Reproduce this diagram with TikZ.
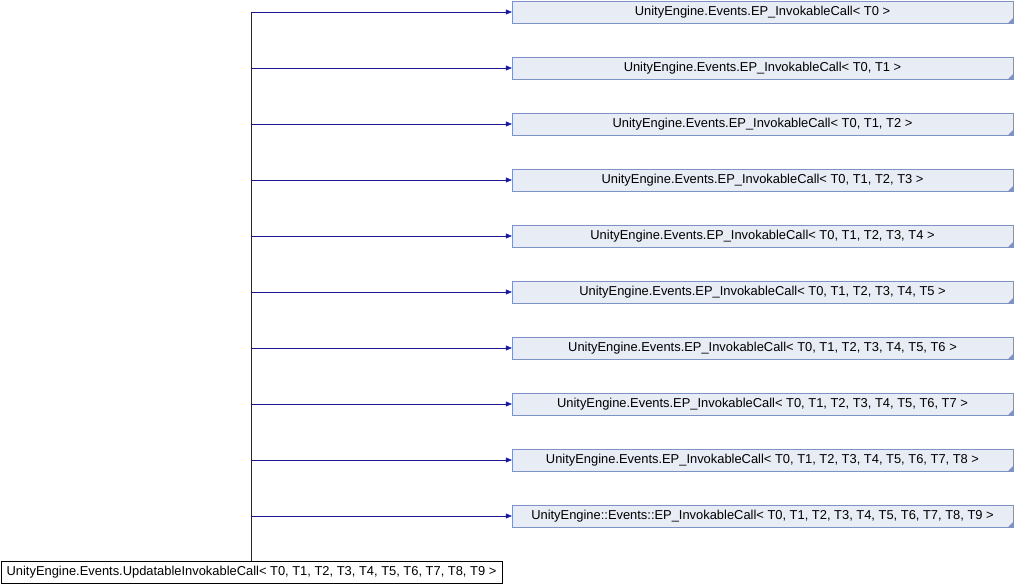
\documentclass[tikz,border=0pt]{standalone}
\usepackage{fontspec}
\setmainfont{Liberation Sans}
\usetikzlibrary{arrows.meta, positioning}
\definecolor{edgeblue}{RGB}{25,25,150}
\definecolor{boxfill}{RGB}{232,236,245}
\definecolor{boxline}{RGB}{124,147,198}

\begin{document}
\begin{tikzpicture}[
  x=1pt, y=-1pt,
  font=\fontsize{12.9}{14}\selectfont,
  cls/.style={draw=boxline, fill=boxfill, minimum width=501pt, minimum height=22pt, inner sep=0pt,
    path picture={\fill[boxline] (path picture bounding box.south east) -- ++(-5pt,0) -- ++(5pt,5pt) -- cycle;}},
  base/.style={draw=black, fill=white, minimum width=501pt, minimum height=22pt, inner sep=0pt},
  arr/.style={draw=edgeblue, -{Triangle[length=6pt, width=5pt]}}
]
\useasboundingbox (0,0) rectangle (1014,584);

\node[cls] at (762.5,12) (c0) {UnityEngine.Events.EP\_InvokableCall< T0 >};
\node[cls, below=33.6pt of c0] (c1) {UnityEngine.Events.EP\_InvokableCall< T0, T1 >};
\node[cls, below=33.6pt of c1] (c2) {UnityEngine.Events.EP\_InvokableCall< T0, T1, T2 >};
\node[cls, below=33.6pt of c2] (c3) {UnityEngine.Events.EP\_InvokableCall< T0, T1, T2, T3 >};
\node[cls, below=33.6pt of c3] (c4) {UnityEngine.Events.EP\_InvokableCall< T0, T1, T2, T3, T4 >};
\node[cls, below=33.6pt of c4] (c5) {UnityEngine.Events.EP\_InvokableCall< T0, T1, T2, T3, T4, T5 >};
\node[cls, below=33.6pt of c5] (c6) {UnityEngine.Events.EP\_InvokableCall< T0, T1, T2, T3, T4, T5, T6 >};
\node[cls, below=33.6pt of c6] (c7) {UnityEngine.Events.EP\_InvokableCall< T0, T1, T2, T3, T4, T5, T6, T7 >};
\node[cls, below=33.6pt of c7] (c8) {UnityEngine.Events.EP\_InvokableCall< T0, T1, T2, T3, T4, T5, T6, T7, T8 >};
\node[cls, below=33.6pt of c8] (c9) {UnityEngine::Events::EP\_InvokableCall< T0, T1, T2, T3, T4, T5, T6, T7, T8, T9 >};

\node[base] at (251.5,572) (upd) {UnityEngine.Events.UpdatableInvokableCall< T0, T1, T2, T3, T4, T5, T6, T7, T8, T9 >};

% trunk from the base class up to the first branch
\coordinate (top) at (upd.north |- c0.west);
\draw[edgeblue] (upd.north) -- (top);

\draw[arr] (top) -- (c0.west);
\draw[arr] (upd.north |- c1.west) -- (c1.west);
\draw[arr] (upd.north |- c2.west) -- (c2.west);
\draw[arr] (upd.north |- c3.west) -- (c3.west);
\draw[arr] (upd.north |- c4.west) -- (c4.west);
\draw[arr] (upd.north |- c5.west) -- (c5.west);
\draw[arr] (upd.north |- c6.west) -- (c6.west);
\draw[arr] (upd.north |- c7.west) -- (c7.west);
\draw[arr] (upd.north |- c8.west) -- (c8.west);
\draw[arr] (upd.north |- c9.west) -- (c9.west);
\end{tikzpicture}
\end{document}
